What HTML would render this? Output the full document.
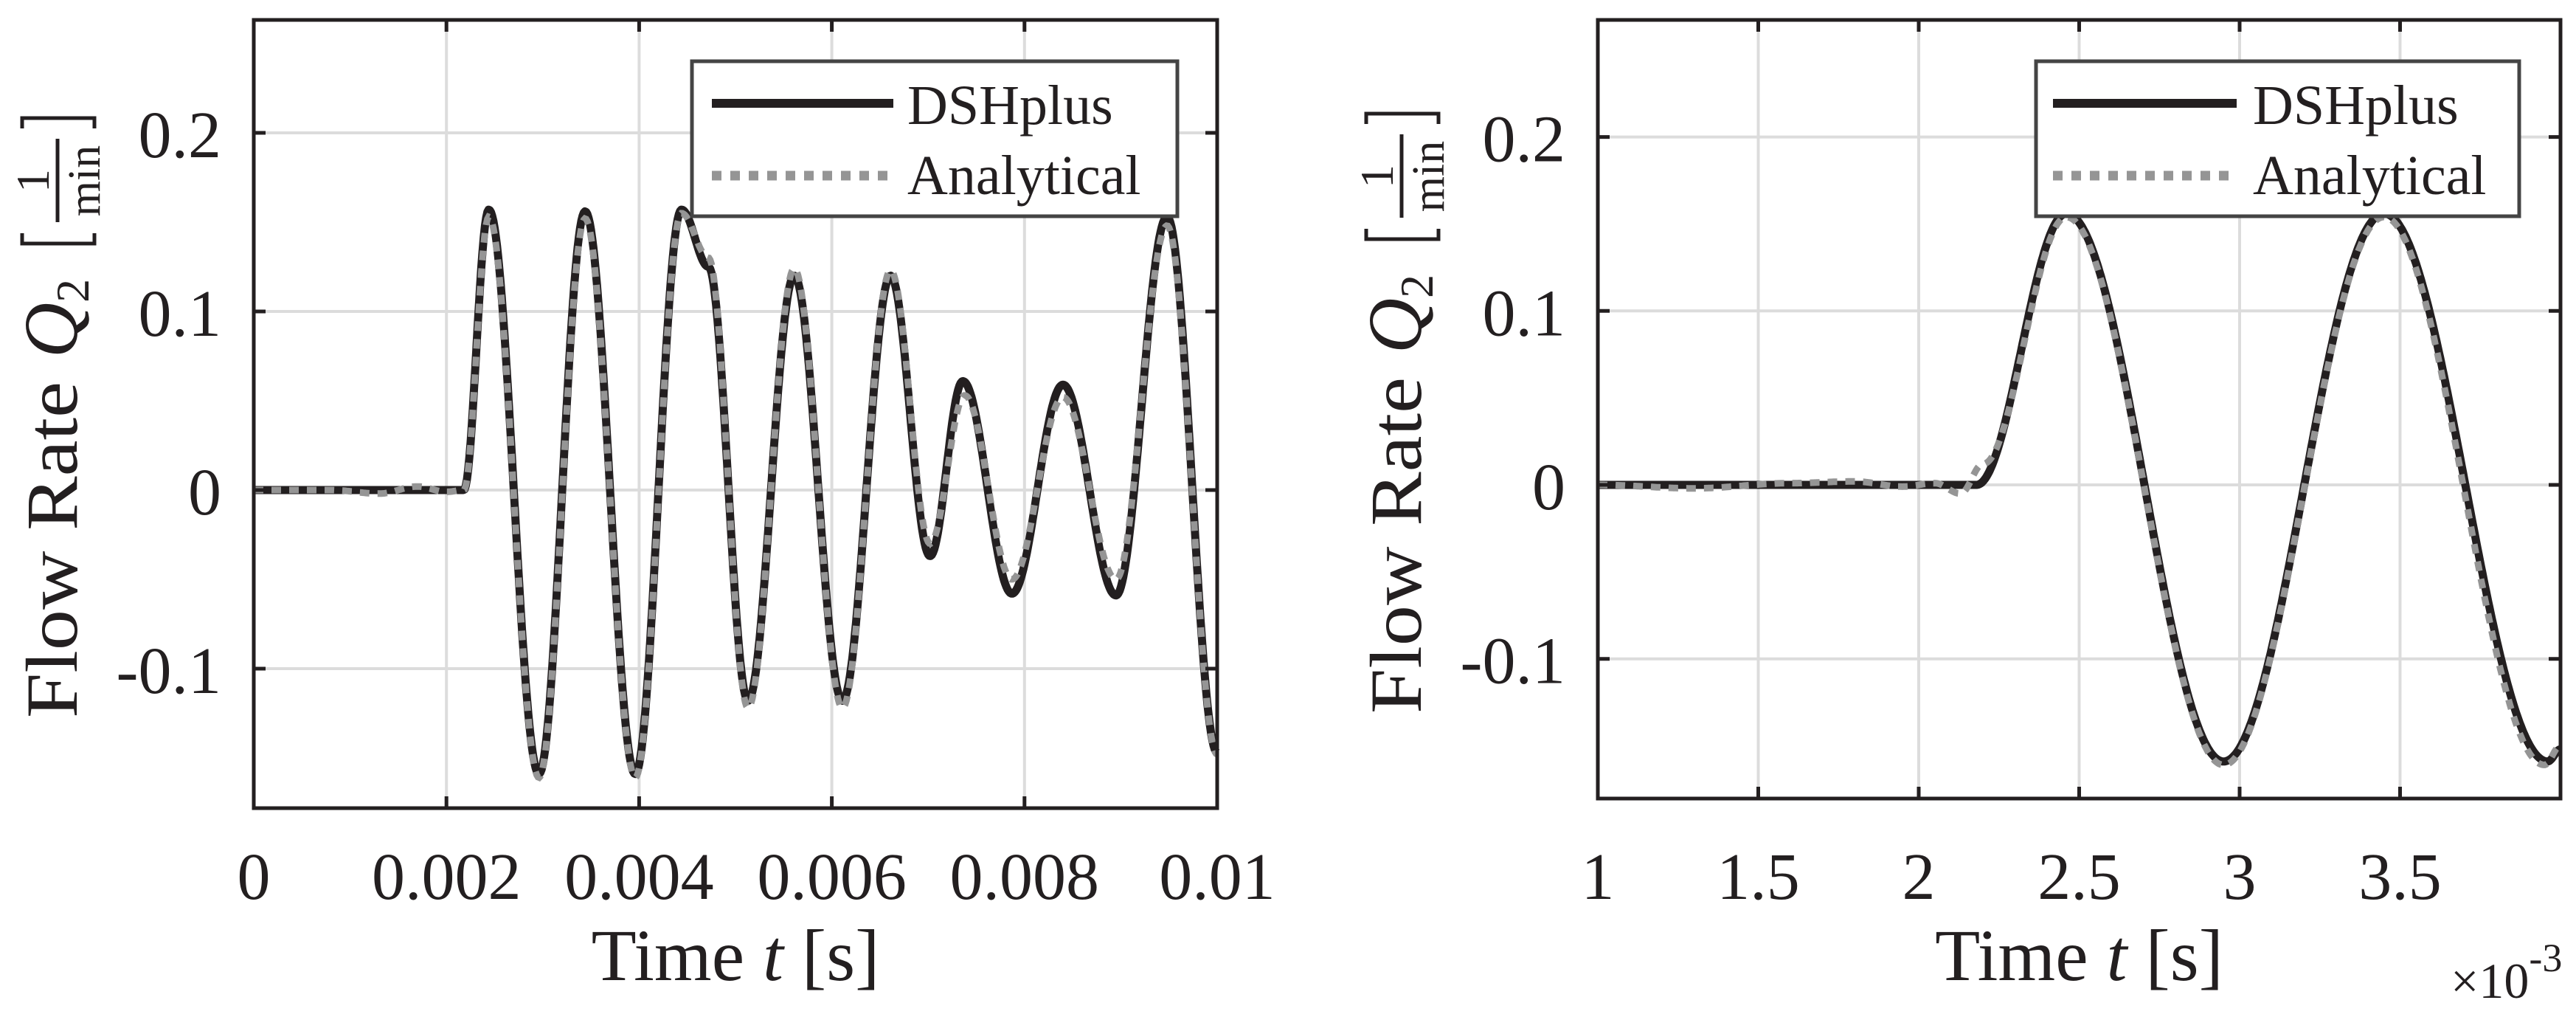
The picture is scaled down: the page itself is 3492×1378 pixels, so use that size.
<!DOCTYPE html>
<html><head><meta charset="utf-8"><style>
html,body{margin:0;padding:0;background:#fff;}
svg{display:block;font-family:"Liberation Serif",serif;}
</style></head><body>
<svg id="fig" width="3492" height="1378" viewBox="0 0 3492 1378" xmlns="http://www.w3.org/2000/svg">
<rect x="0" y="0" width="3492" height="1378" fill="#fff"/>
<g id="p1"></g>
<g id="p2"></g>
</svg>
<script>
// ----- Left chart data (time in ms, flow rate) -----
const leftTicksX = [0, 0.002, 0.004, 0.006, 0.008, 0.01];
const leftTickLabelsX = ["0", "0.002", "0.004", "0.006", "0.008", "0.01"];
const ticksY = [-0.1, 0, 0.1, 0.2];
const tickLabelsY = ["-0.1", "0", "0.1", "0.2"];
const leftDshT = [0, 2.18, 2.44, 2.96, 3.44, 3.96, 4.44, 4.72, 5.13, 5.61, 6.11, 6.61, 7.02, 7.36, 7.87, 8.40, 8.95, 9.48, 10.0];
const leftDshQ = [0, 0, 0.157, -0.159, 0.156, -0.159, 0.157, 0.125, -0.118, 0.120, -0.118, 0.120, -0.037, 0.061, -0.058, 0.059, -0.059, 0.153, -0.147];
const leftAnaT = [0, 0.8, 1.3, 1.7, 2.0, 2.18, 2.44, 2.96, 3.44, 3.96, 4.44, 4.72, 5.13, 5.61, 6.11, 6.61, 7.02, 7.38, 7.87, 8.40, 8.95, 9.48, 10.0];
const leftAnaQ = [0, 0, -0.002, 0.002, -0.001, 0, 0.153, -0.161, 0.152, -0.161, 0.155, 0.13, -0.122, 0.124, -0.122, 0.123, -0.030, 0.053, -0.050, 0.052, -0.050, 0.148, -0.148];
// ----- Right chart data (time in ms) -----
const rightTicksX = [1, 1.5, 2, 2.5, 3, 3.5];
const rightTickLabelsX = ["1", "1.5", "2", "2.5", "3", "3.5"];
const rightDshT = [1.0, 2.18, 2.46, 2.95, 3.45, 3.96, 4.0];
const rightDshQ = [0, 0, 0.156, -0.159, 0.156, -0.159, -0.152];
const rightAnaT = [1.0, 1.3, 1.6, 1.8, 1.95, 2.05, 2.13, 2.2, 2.46, 2.95, 3.45, 3.95, 4.0];
const rightAnaQ = [0, -0.002, 0.001, 0.002, -0.001, 0.001, -0.005, 0.012, 0.154, -0.161, 0.154, -0.161, -0.150];

const NS = "http://www.w3.org/2000/svg";
function mk(parent, tag, attrs){
  const e = document.createElementNS(NS, tag);
  for (const k in attrs) e.setAttribute(k, attrs[k]);
  parent.appendChild(e); return e;
}
function interp(T, Q, t){
  for (let i = 0; i < T.length - 1; i++){
    if (t >= T[i] && t <= T[i+1]){
      const s = (t - T[i]) / (T[i+1] - T[i]);
      return Q[i] + (Q[i+1] - Q[i]) * (1 - Math.cos(Math.PI * s)) / 2;
    }
  }
  return Q[Q.length-1];
}
function seriesPath(T, Q, sx, sy){
  let d = "";
  const n = 800, t0 = T[0], t1 = T[T.length-1];
  for (let i = 0; i <= n; i++){
    const t = t0 + (t1 - t0) * i / n;
    d += (i ? "L" : "M") + sx(t).toFixed(1) + "," + sy(interp(T, Q, t)).toFixed(1);
  }
  return d;
}

function drawPlot(g, cfg){
  const {L, R, T, B, xmin, xmax, y0px, yScale, ticksX, labelsX, dshT, dshQ, anaT, anaQ, xUnit, legend} = cfg;
  const sx = v => L + (v - xmin) / (xmax - xmin) * (R - L);
  const sy = v => y0px - v * yScale;
  ticksX.forEach((v, i) => {
    const x = sx(v * xUnit);
    const gl = mk(g, "line", {x1:x, x2:x, y1:T, y2:B, stroke:"#dcdcdc", "stroke-width":4});
    
    
  });
  ticksY.forEach(v => {
    const y = sy(v);
    const gl = mk(g, "line", {x1:L, x2:R, y1:y, y2:y, stroke:"#dcdcdc", "stroke-width":4});
    
    
  });
  const p1 = mk(g, "path", {d:seriesPath(dshT, dshQ, t => sx(t), sy), fill:"none", stroke:"#231f20", "stroke-width":11, "stroke-linejoin":"round"});
  
  
  const p2 = mk(g, "path", {d:seriesPath(anaT, anaQ, t => sx(t), sy), fill:"none", stroke:"#959595", "stroke-width":9, "stroke-dasharray":"13 11"});
  
  
  const box = mk(g, "rect", {x:L, y:T, width:R-L, height:B-T, fill:"none", stroke:"#231f20", "stroke-width":5});
  
  
  ticksX.forEach((v, i) => {
    const x = sx(v * xUnit);
    const tk = mk(g, "path", {d:`M${x},${B}v-16M${x},${T}v16`, stroke:"#231f20", "stroke-width":5});
    
    
    const tl = mk(g, "text", {x:x, y:1218, "font-size":90, "text-anchor":"middle", fill:"#231f20"});
    tl.textContent = labelsX[i];
    
    
  });
  ticksY.forEach((v, i) => {
    const y = sy(v);
    const tk = mk(g, "path", {d:`M${L},${y}h16M${R},${y}h-16`, stroke:"#231f20", "stroke-width":5});
    
    
    const tl = mk(g, "text", {x:L-44, y:y+33, "font-size":90, "text-anchor":"end", fill:"#231f20"});
    tl.textContent = tickLabelsY[i];
    
    
  });
  const xl = mk(g, "text", {x:(L+R)/2, y:1328, "font-size":100, "text-anchor":"middle", fill:"#231f20"});
  xl.innerHTML = 'Time <tspan font-style="italic">t</tspan> [s]';
  
  
  const yl = mk(g, "g", {transform:`translate(${L-240},${cfg.ylabBottom}) rotate(-90)`, fill:"#231f20"});
  
  
  const t1 = mk(yl, "text", {x:0, y:0, "font-size":100, textLength:456, lengthAdjust:"spacingAndGlyphs"});
  t1.textContent = "Flow Rate";
  const t2 = mk(yl, "text", {x:488, y:0, "font-size":104, "font-style":"italic"});
  t2.innerHTML = 'Q<tspan font-size="64" font-style="normal" dy="16">2</tspan>';
  mk(yl, "path", {d:"M657,-74H643V24H657M799,-74H813V24H799", fill:"none", stroke:"#231f20", "stroke-width":5});
  mk(yl, "line", {x1:672, x2:785, y1:-26, y2:-26, stroke:"#231f20", "stroke-width":5});
  const one = mk(yl, "text", {x:728, y:-38, "font-size":64, "text-anchor":"middle"}); one.textContent = "1";
  const mn = mk(yl, "text", {x:728, y:31, "font-size":62, "text-anchor":"middle"}); mn.textContent = "min";
  const lg = mk(g, "g", {});
  
  
  mk(lg, "rect", {x:legend.x, y:legend.y, width:legend.w, height:legend.h, fill:"#fff", stroke:"#444", "stroke-width":5});
  const e1 = mk(lg, "line", {x1:legend.lx1, x2:legend.lx2, y1:legend.y+57, y2:legend.y+57, stroke:"#231f20", "stroke-width":12});
  
  
  const e2 = mk(lg, "line", {x1:legend.lx1, x2:legend.lx2, y1:legend.y+155, y2:legend.y+155, stroke:"#959595", "stroke-width":13, "stroke-dasharray":"13 12"});
  
  
  const lt1 = mk(lg, "text", {x:legend.tx, y:legend.y+85, "font-size":76, fill:"#231f20"}); lt1.textContent = "DSHplus";
  
  
  const lt2 = mk(lg, "text", {x:legend.tx, y:legend.y+180, "font-size":76, fill:"#231f20"}); lt2.textContent = "Analytical";
  
  
}

drawPlot(document.getElementById("p1"), {
  L:344, R:1650, T:27, B:1095, xmin:0, xmax:10, y0px:664, yScale:2420,
  ticksX:leftTicksX, labelsX:leftTickLabelsX, xUnit:1000,
  dshT:leftDshT, dshQ:leftDshQ, anaT:leftAnaT, anaQ:leftAnaQ, ylabBottom:973,
  legend:{x:938, y:83, w:658, h:210, lx1:965, lx2:1211, tx:1230}
});
drawPlot(document.getElementById("p2"), {
  L:2166, R:3471, T:27, B:1082, xmin:1, xmax:4, y0px:657, yScale:2357,
  ticksX:rightTicksX, labelsX:rightTickLabelsX, xUnit:1,
  dshT:rightDshT, dshQ:rightDshQ, anaT:rightAnaT, anaQ:rightAnaQ, ylabBottom:967,
  legend:{x:2760, y:83, w:655, h:210, lx1:2783, lx2:3032, tx:3054}
});
const ex = mk(document.getElementById("fig"), "text", {x:3322, y:1352, "font-size":68, fill:"#231f20"});
ex.innerHTML = '×10<tspan font-size="54" dy="-36">-3</tspan>';


</script>
</body></html>
